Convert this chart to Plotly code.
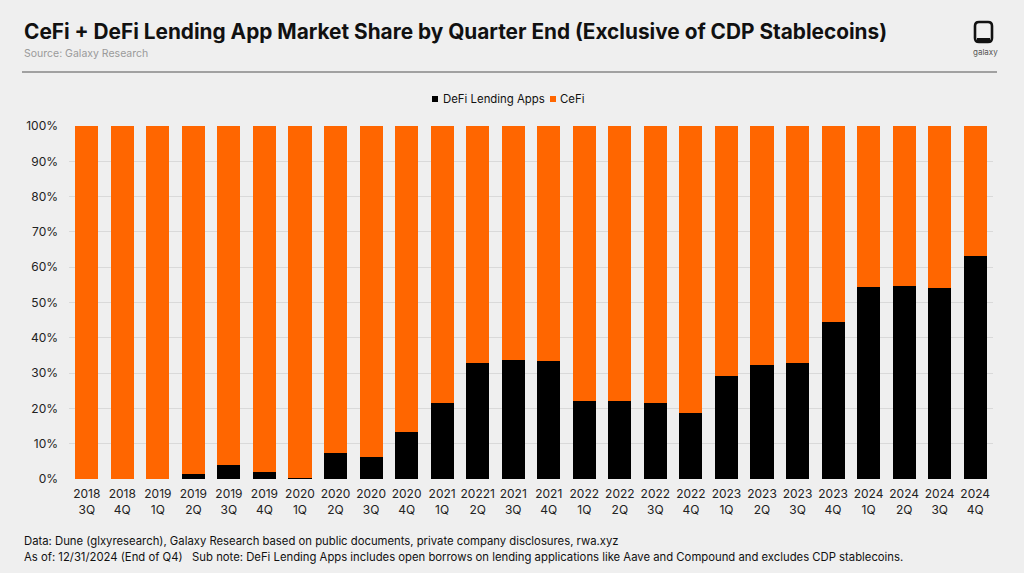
import plotly.graph_objects as go

quarters = ["2018<br>3Q", "2018<br>4Q", "2019<br>1Q", "2019<br>2Q", "2019<br>3Q", "2019<br>4Q",
            "2020<br>1Q", "2020<br>2Q", "2020<br>3Q", "2020<br>4Q", "2021<br>1Q", "20221<br>2Q",
            "2021<br>3Q", "2021<br>4Q", "2022<br>1Q", "2022<br>2Q", "2022<br>3Q", "2022<br>4Q",
            "2023<br>1Q", "2023<br>2Q", "2023<br>3Q", "2023<br>4Q", "2024<br>1Q", "2024<br>2Q",
            "2024<br>3Q", "2024<br>4Q"]
defi = [0.0, 0.0, 0.0, 1.3, 4.0, 2.1, 0.2, 7.5, 6.1, 13.2, 21.6, 33.0,
        33.6, 33.4, 22.2, 22.1, 21.6, 18.7, 29.3, 32.4, 32.9, 44.5, 54.4, 54.6,
        54.0, 63.3]
cefi = [round(100 - v, 1) for v in defi]
y_ticks = [0, 10, 20, 30, 40, 50, 60, 70, 80, 90, 100]
y_tick_labels = [f"{v}%" for v in y_ticks]
series_names = ["DeFi Lending Apps", "CeFi"]

BG = "#efefef"
ORANGE = "#ff6600"
BLACK = "#000000"
FONT = "Inter"

fig = go.Figure()
fig.add_trace(go.Bar(x=quarters, y=defi, name=series_names[0], marker_color=BLACK,
                     marker_line_width=0))
fig.add_trace(go.Bar(x=quarters, y=cefi, name=series_names[1], marker_color=ORANGE,
                     marker_line_width=0))

fig.update_layout(
    barmode="stack",
    bargap=0.35,
    width=1024, height=573,
    paper_bgcolor=BG, plot_bgcolor=BG,
    margin=dict(l=69, r=31, t=126, b=94),
    font=dict(family=FONT, color="#222222", size=12),
    showlegend=False,
    xaxis=dict(showgrid=False, tickfont=dict(size=12, color="#222222"), ticks="",
               showline=False, zeroline=False, ticklabelstandoff=6),
    yaxis=dict(range=[0, 100], tickvals=y_ticks, ticktext=y_tick_labels,
               showgrid=True, gridcolor="#d9d9d9", gridwidth=1, zeroline=False,
               tickfont=dict(size=12, color="#222222"), ticks="", ticklabelstandoff=10),
)

plot_l, plot_r, plot_t, plot_b = 69, 993, 126, 479
def px_to_paper(x, y):
    return (x - plot_l) / (plot_r - plot_l), (plot_b - y) / (plot_b - plot_t)

texts = [
    ("<b>CeFi + DeFi Lending App Market Share by Quarter End (Exclusive of CDP Stablecoins)</b>",
     22, 32, "left", dict(size=20.8, color="#111111")),
    ("Source: Galaxy Research", 22, 53, "left", dict(size=10.5, color="#9a9a9a")),
    ("Data: Dune (glxyresearch), Galaxy Research based on public documents, private company disclosures, rwa.xyz",
     22, 541, "left", dict(size=11.3, color="#111111")),
    ("As of: 12/31/2024 (End of Q4)   Sub note: DeFi Lending Apps includes open borrows on lending applications like Aave and Compound and excludes CDP stablecoins.",
     22, 557, "left", dict(size=11.3, color="#111111")),
    ("galaxy", 985, 52, "center", dict(size=8, color="#555555")),
    (series_names[0], 441, 99, "left", dict(size=11.4, color="#111111")),
    (series_names[1], 558, 99, "left", dict(size=11.4, color="#111111")),
]
anns = []
for text, x, y, anchor, f in texts:
    xp, yp = px_to_paper(x, y)
    anns.append(dict(text=text, x=xp, y=yp, xref="paper", yref="paper",
                     xanchor=anchor, yanchor="middle", showarrow=False, font=f))
fig.update_layout(annotations=anns)

def prect(xa, ya, xb, yb, color):
    p0 = px_to_paper(xa, ya)
    p1 = px_to_paper(xb, yb)
    return dict(type="rect", xref="paper", yref="paper", x0=p0[0], x1=p1[0], y0=p0[1], y1=p1[1],
                fillcolor=color, line=dict(width=0))

def P(x, y):
    a, b = px_to_paper(x, y)
    return f"{a:.5f},{b:.5f}"
lx0, lx1, ly0, ly1, r = 975, 992, 22, 42, 4
logo_path = (f"M {P(lx0 + r, ly0)} L {P(lx1 - r, ly0)} Q {P(lx1, ly0)} {P(lx1, ly0 + r)} "
             f"L {P(lx1, ly1 - r)} Q {P(lx1, ly1)} {P(lx1 - r, ly1)} "
             f"L {P(lx0 + r, ly1)} Q {P(lx0, ly1)} {P(lx0, ly1 - r)} "
             f"L {P(lx0, ly0 + r)} Q {P(lx0, ly0)} {P(lx0 + r, ly0)} Z")

x0, y0 = px_to_paper(22, 72)
x1, _ = px_to_paper(997, 72)
fig.update_layout(shapes=[
    dict(type="line", xref="paper", yref="paper", x0=x0, x1=x1, y0=y0, y1=y0,
         line=dict(color="#555555", width=1.2)),
    dict(type="path", xref="paper", yref="paper", path=logo_path,
         line=dict(color="#111111", width=2.6)),
    prect(977, 38, 990, 42, "#111111"),
    prect(432, 96, 438, 102, BLACK),
    prect(550, 96, 556, 102, ORANGE),
])

fig.write_html("out.html", config={"displayModeBar": False},
               post_script="document.body.style.margin='0';")
